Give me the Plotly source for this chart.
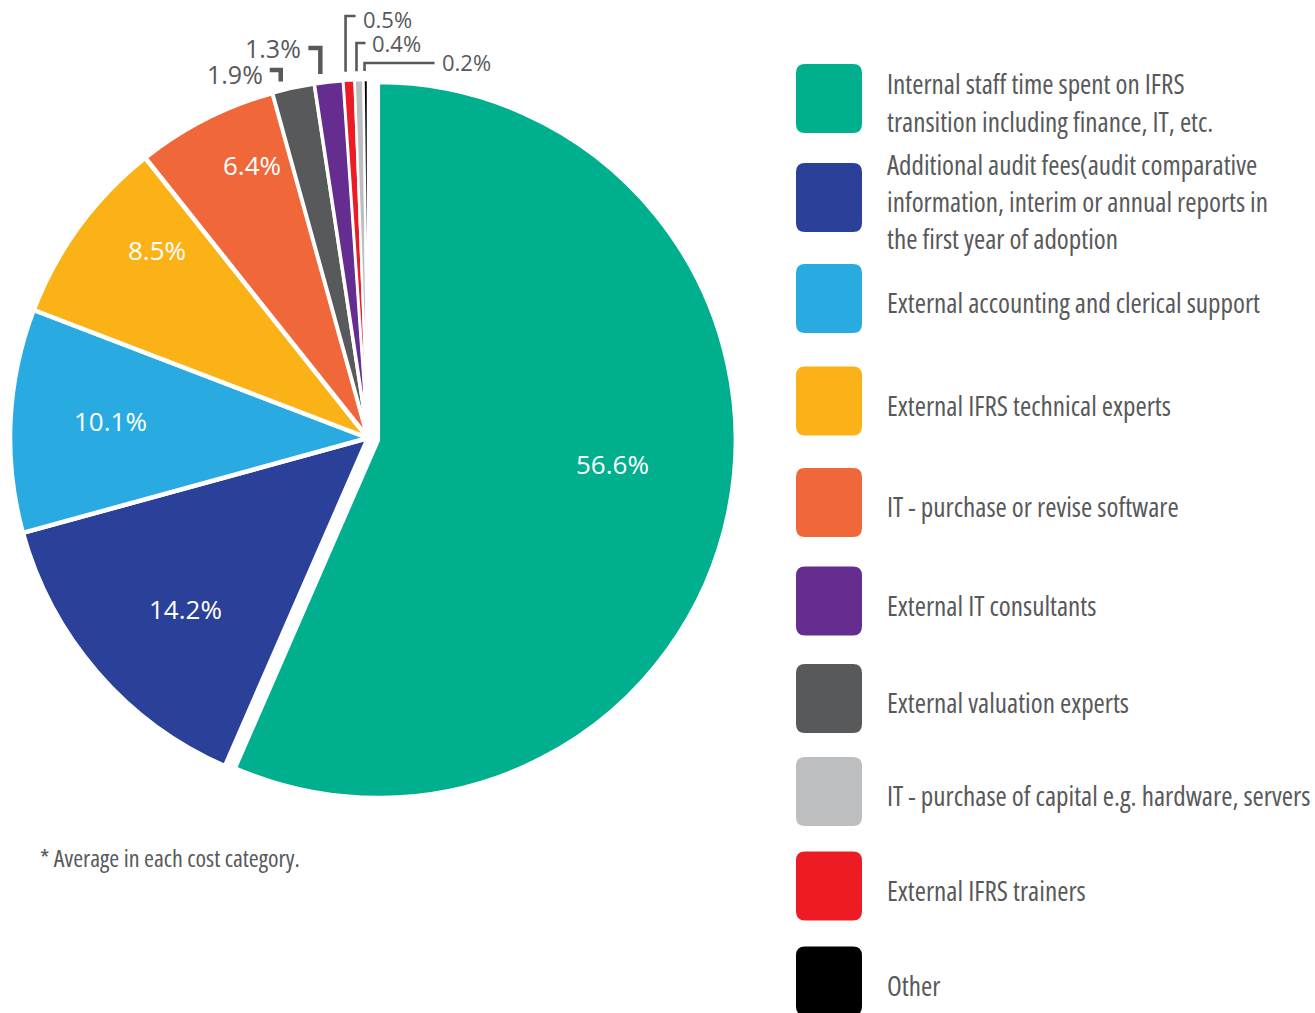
import math
import plotly.graph_objects as go

# ---------------- data ----------------
slice_names = [
    "Internal staff time spent on IFRS transition including finance, IT, etc.",
    "Additional audit fees",
    "External accounting and clerical support",
    "External IFRS technical experts",
    "IT - purchase or revise software",
    "External valuation experts",
    "External IT consultants",
    "External IFRS trainers",
    "IT - purchase of capital e.g. hardware, servers",
    "Other",
]
slice_values = [56.6, 14.2, 10.1, 8.5, 6.4, 1.9, 1.3, 0.5, 0.4, 0.2]
slice_colors = ["#00af8e", "#2b4099", "#29abe2", "#fbb217", "#f0673a",
                "#58595b", "#662d91", "#ed1c24", "#bcbec0", "#000000"]

legend_lines = [
    ["Internal staff time spent on IFRS", "transition including finance, IT, etc."],
    ["Additional audit fees(audit comparative", "information, interim or annual reports in", "the first year of adoption"],
    ["External accounting and clerical support"],
    ["External IFRS technical experts"],
    ["IT - purchase or revise software"],
    ["External IT consultants"],
    ["External valuation experts"],
    ["IT - purchase of capital e.g. hardware, servers"],
    ["External IFRS trainers"],
    ["Other"],
]
legend_colors = ["#00af8e", "#2b4099", "#29abe2", "#fbb217", "#f0673a",
                 "#662d91", "#58595b", "#bcbec0", "#ed1c24", "#000000"]
footnote = "* Average in each cost category."

# ---------------- layout constants ----------------
W, H = 1315, 1013
GRAY = "#58595b"
SANS = "Open Sans, Noto Sans, sans-serif"
COND_STYLE = "font-stretch:condensed"

def px(x):
    return x / W

def py(y):
    return 1 - y / H

def clamp(v):
    return min(1.0, max(0.0, v))

def cond(t):
    return f'<span style="{COND_STYLE}">{t}</span>'

# pie geometry (pixels)
CX, CY, R = 368, 438, 358
PULL = 0.028
half = R * (1 + PULL)
dom_x = [clamp(px(CX - half)), clamp(px(CX + half))]
dom_y = [clamp(py(CY + half)), clamp(py(CY - half))]

border_widths = [4.5, 4.5, 4.5, 4.5, 4.5, 3.5, 3.5, 2.5, 2.5, 2.5]

fig = go.Figure()
fig.add_trace(go.Pie(
    labels=slice_names,
    values=slice_values,
    sort=False,
    direction="clockwise",
    rotation=0,
    pull=[PULL] + [0] * 9,
    marker=dict(colors=slice_colors, line=dict(color="white", width=border_widths)),
    textinfo="none",
    domain=dict(x=dom_x, y=dom_y),
    showlegend=False,
    hoverinfo="label+value",
))

shapes = []
annotations = []

total = sum(slice_values)
cum = [sum(slice_values[:i]) for i in range(len(slice_values))]

# ---------------- inside labels (big slices) ----------------
# per label: (radius fraction, angular nudge in degrees)
inside_style = {0: (0.66, -5.9), 1: (0.70, -2.2), 2: (0.72, 1.0), 3: (0.79, 5.5), 4: (0.83, 3.9)}
for i, (rf, nudge) in inside_style.items():
    mid = (cum[i] + slice_values[i] / 2) / total * 360 + nudge
    a = math.radians(mid)
    ox, oy = CX, CY
    if i == 0:
        pa = math.radians((cum[0] + slice_values[0] / 2) / total * 360)
        ox += PULL * R * math.sin(pa)
        oy -= PULL * R * math.cos(pa)
    lx = ox + rf * R * math.sin(a)
    ly = oy - rf * R * math.cos(a)
    annotations.append(dict(
        x=px(lx), y=py(ly), xref="paper", yref="paper",
        text=f"{slice_values[i]:.1f}%", showarrow=False,
        xanchor="center", yanchor="middle",
        font=dict(family=SANS, size=26, color="white"),
    ))

# ---------------- small-slice callouts ----------------
# per callout: (elbow y px, horizontal run px signed, text dy, font size, line width)
callout_style = {
    5: (70, -11, 4, 25, 4.5),
    6: (48, -12, 0, 25, 4.5),
    7: (16, 10, 3, 22, 2.6),
    8: (43, 9, 0, 22, 2.6),
    9: (63, 70, -1, 22, 2.6),
}
for i, (ey, run, tdy, fs, lw) in callout_style.items():
    frac = (cum[i] + 0.25 * slice_values[i]) / total
    ang = 2 * math.pi * frac
    r_out = R + 9
    ax = CX + r_out * math.sin(ang)
    ay = CY - r_out * math.cos(ang)
    ex = ax + run
    shapes.append(dict(
        type="path", xref="paper", yref="paper",
        path=f"M {px(ax)} {py(ay)} L {px(ax)} {py(ey)} L {px(ex)} {py(ey)}",
        line=dict(color=GRAY, width=lw), fillcolor="rgba(0,0,0,0)",
    ))
    gap = 5
    annotations.append(dict(
        x=px(ex + (gap if run > 0 else -gap)), y=py(ey + tdy), xref="paper", yref="paper",
        text=f"{slice_values[i]:.1f}%", showarrow=False,
        xanchor="left" if run > 0 else "right", yanchor="middle",
        font=dict(family=SANS, size=fs, color=GRAY),
    ))

# ---------------- custom legend ----------------
sw_x0, sw_x1 = 796, 862
sw_h = 69
sw_r = 9
sw_centers = [98.5, 197.5, 298.5, 401, 502.5, 601, 698.5, 791.5, 886, 981]
text_x = 885
line_gap = 37

def rounded_rect(x0, y0, x1, y1, r):
    pts = [
        ("M", [(x0 + r, y0)]),
        ("L", [(x1 - r, y0)]),
        ("Q", [(x1, y0), (x1, y0 + r)]),
        ("L", [(x1, y1 - r)]),
        ("Q", [(x1, y1), (x1 - r, y1)]),
        ("L", [(x0 + r, y1)]),
        ("Q", [(x0, y1), (x0, y1 - r)]),
        ("L", [(x0, y0 + r)]),
        ("Q", [(x0, y0), (x0 + r, y0)]),
    ]
    s = ""
    for cmd, ps in pts:
        s += cmd + " " + " ".join(f"{px(a):.5f},{py(b):.5f}" for a, b in ps) + " "
    return s + "Z"

for k, (lines, col) in enumerate(zip(legend_lines, legend_colors)):
    cy = sw_centers[k]
    shapes.append(dict(
        type="path", xref="paper", yref="paper",
        path=rounded_rect(sw_x0, cy - sw_h / 2, sw_x1, cy + sw_h / 2, sw_r),
        fillcolor=col, line=dict(width=0),
    ))
    n = len(lines)
    for j, ln in enumerate(lines):
        ty = cy + 4 + (j - (n - 1) / 2) * line_gap
        annotations.append(dict(
            x=px(text_x), y=py(ty), xref="paper", yref="paper",
            text=cond(ln), showarrow=False, xanchor="left", yanchor="middle",
            font=dict(family=SANS, size=27.2, color=GRAY),
        ))

annotations.append(dict(
    x=px(38), y=py(857), xref="paper", yref="paper",
    text=cond(footnote), showarrow=False, xanchor="left", yanchor="middle",
    font=dict(family=SANS, size=24, color=GRAY),
))

fig.update_layout(
    width=W, height=H,
    margin=dict(l=0, r=0, t=0, b=0),
    paper_bgcolor="white", plot_bgcolor="white",
    shapes=shapes, annotations=annotations,
    showlegend=False,
)

fig.write_html("out.html", config={"displayModeBar": False},
               post_script="document.body.style.margin='0';")
